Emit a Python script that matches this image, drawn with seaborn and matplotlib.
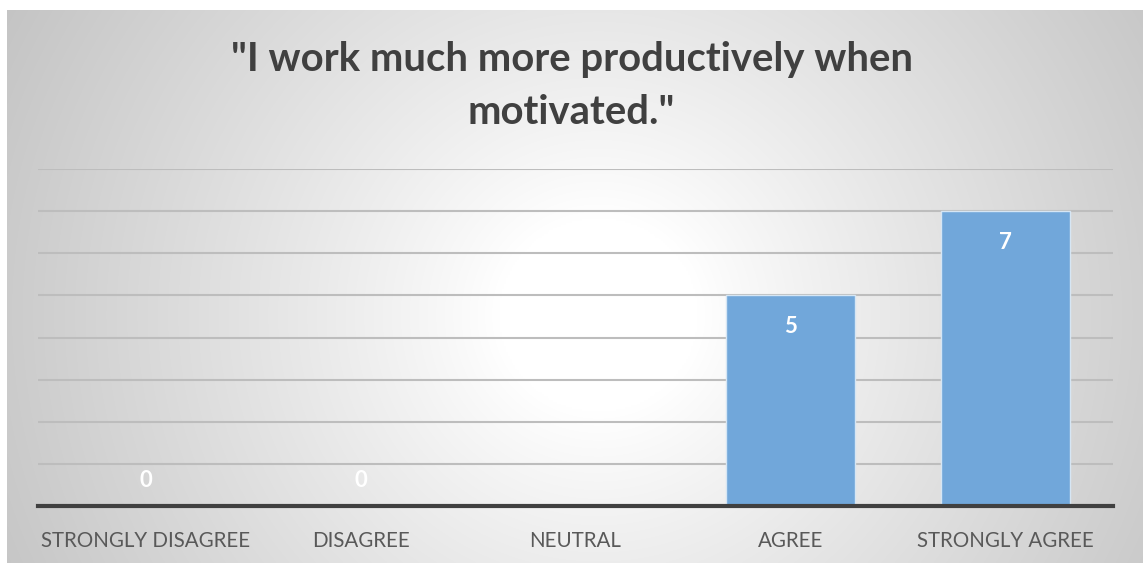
import numpy as np
import pandas as pd
import matplotlib
matplotlib.use("Agg")
import matplotlib.pyplot as plt
import seaborn as sns

categories = ["STRONGLY DISAGREE", "DISAGREE", "NEUTRAL", "AGREE", "STRONGLY AGREE"]
values = [0, 0, np.nan, 5, 7]
title = "\"I work much more productively when\nmotivated.\""

sns.set_theme(style="white")
plt.rcParams['font.family'] = ['Lato', 'DejaVu Sans']

W, H = 1143, 563
fig = plt.figure(figsize=(W / 100, H / 100), dpi=100)
fig.patch.set_facecolor("white")

# radial gradient background panel
bg = fig.add_axes([7 / W, 0, 1 - 7 / W, 1 - 10 / H])
bg.set_axis_off()
ny, nx = 300, 600
yy, xx = np.mgrid[0:ny, 0:nx]
cx, cy = 0.52 * nx, 0.55 * ny
d = np.sqrt(((xx - cx) / nx * 2.0) ** 2 + ((yy - cy) / ny * 1.0) ** 2)
d = d / d.max()
t = np.clip((d - 0.15) / 0.85, 0, 1) ** 0.9
g = 1.0 - t * (1.0 - 0.77)
img = np.dstack([g, g, g])
bg.imshow(img, aspect="auto", extent=[0, 1, 0, 1], interpolation="bilinear")
bg.set_xlim(0, 1)
bg.set_ylim(0, 1)

ax = fig.add_axes([38 / W, (H - 506) / H, (1113 - 38) / W, (506 - 169) / H])
ax.patch.set_alpha(0)
df = pd.DataFrame({"cat": categories, "val": values})
sns.barplot(data=df, x="cat", y="val", ax=ax, color="#71a7da", width=0.6,
            edgecolor="#d6e6f4", linewidth=1.0, saturation=1)
ax.set_ylim(0, 8)
ax.set_xlim(-0.5, len(categories) - 0.5)
ax.set_yticks(range(0, 9))
ax.yaxis.grid(True, color="#bdbdbd", linewidth=1.5)
ax.set_axisbelow(True)
for s in ["top", "left", "right"]:
    ax.spines[s].set_visible(False)
ax.spines["bottom"].set_color("#404040")
ax.spines["bottom"].set_linewidth(3)
ax.spines["bottom"].set_zorder(5)
ax.tick_params(axis="y", left=False, labelleft=False)
ax.tick_params(axis="x", bottom=False, pad=12, labelsize=14.8, labelcolor="#595959")
ax.set_xlabel("")
ax.set_ylabel("")

for i, v in enumerate(values):
    if np.isnan(v):
        continue
    if v > 0:
        ax.text(i, v - 0.75, f"{int(v)}", ha="center", va="center", color="white",
                fontsize=16, fontweight="bold")
    else:
        ax.text(i, 0.6, f"{int(v)}", ha="center", va="center", color="white",
                fontsize=16, fontweight="bold")

fig.text(0.5 * (1 + 7 / W) - 0.003, 1 - 86 / H, title, ha="center", va="center",
         fontsize=28.8, fontweight="bold", color="#404040", linespacing=1.55)

fig.savefig("out.png", dpi=100, facecolor="white")
